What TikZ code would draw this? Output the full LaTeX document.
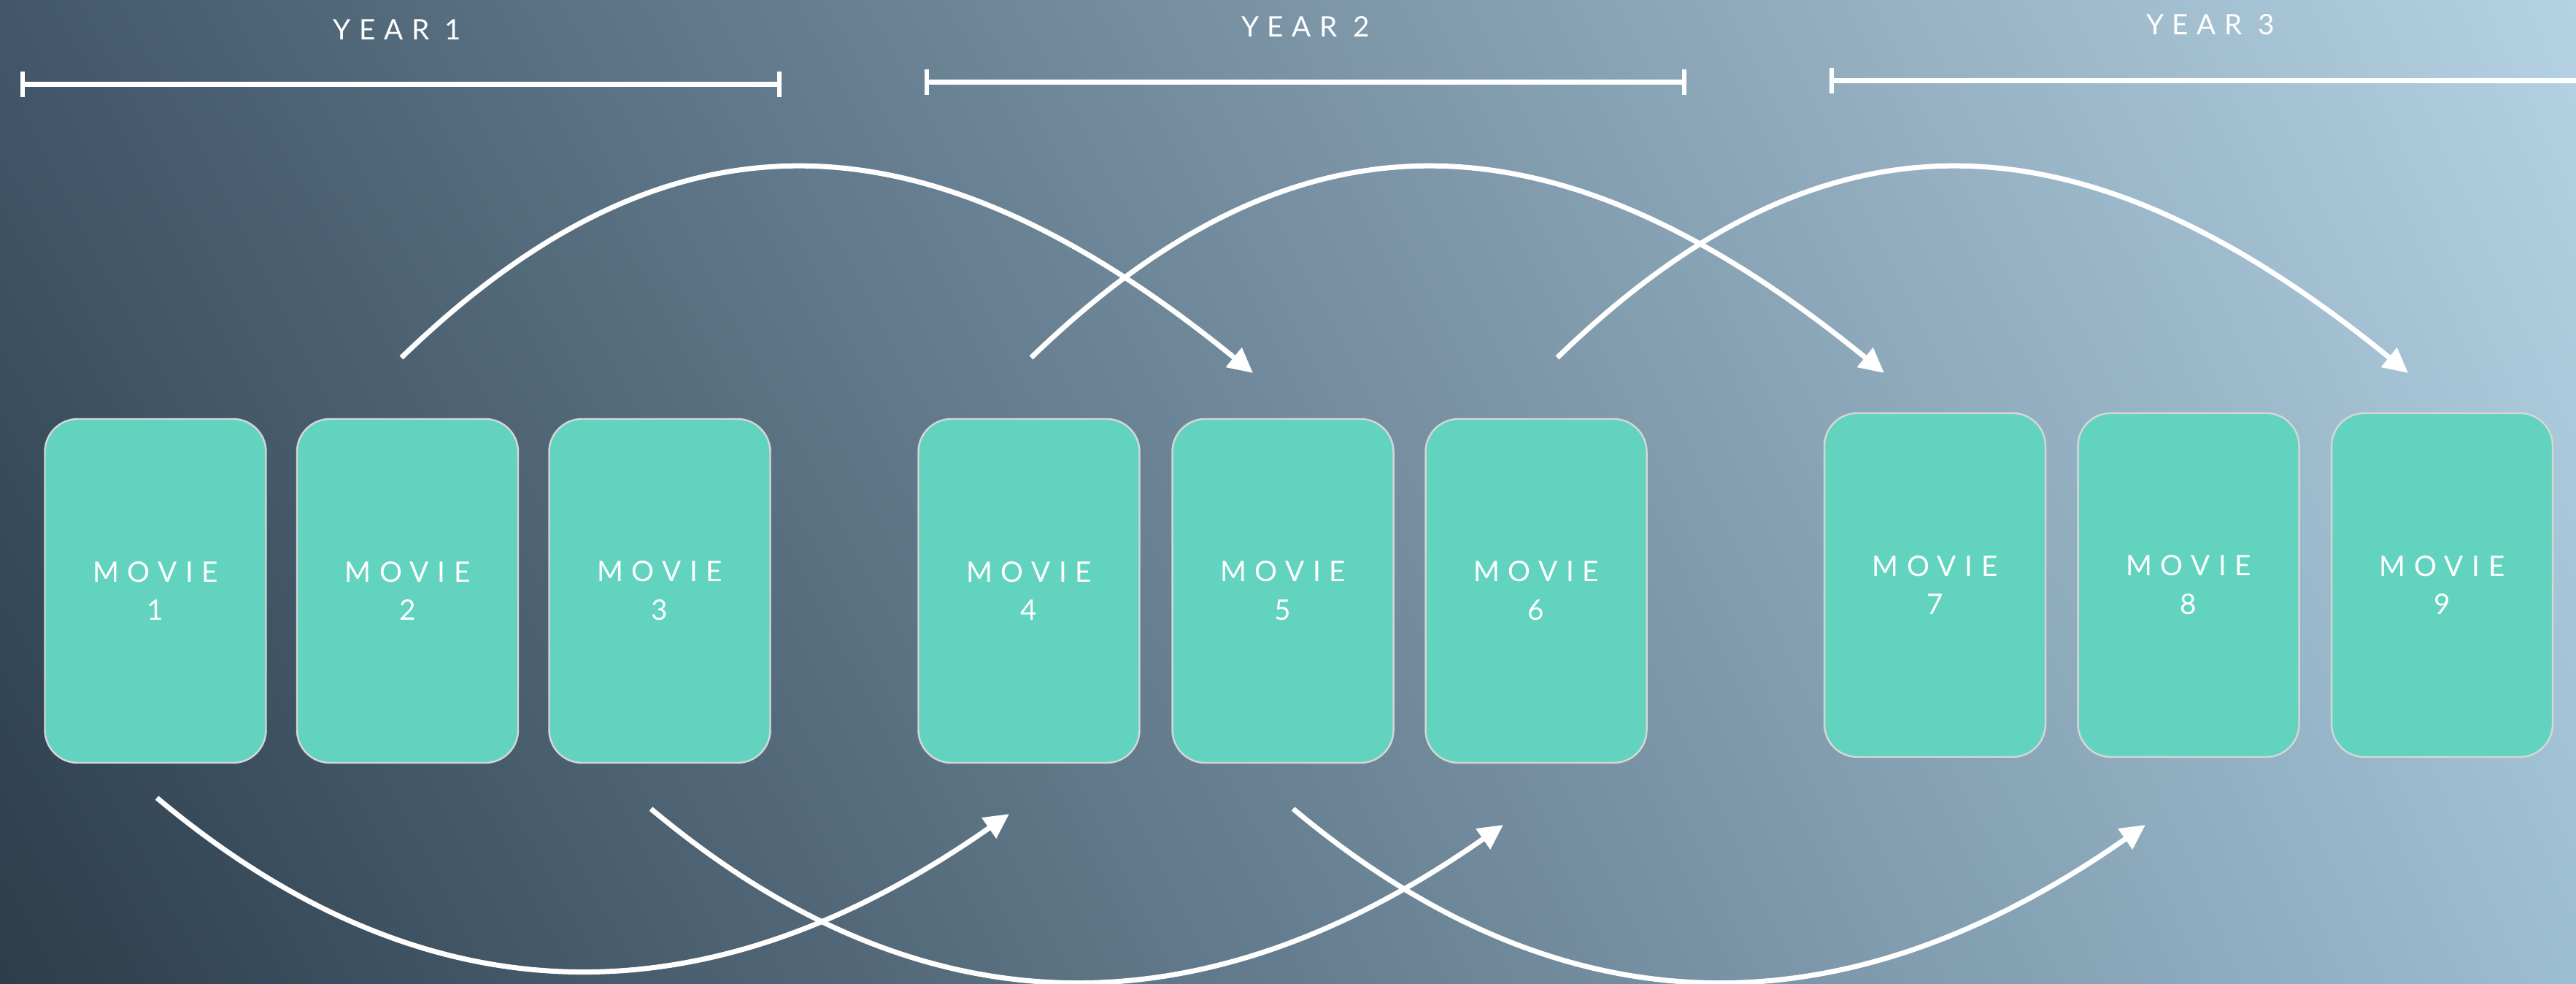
\documentclass[tikz,border=0pt]{standalone}
\usepackage{fontspec}
\setmainfont{Lato}
\newfontfamily\tracked{Lato}[LetterSpace=30]
\usetikzlibrary{arrows.meta,calc,shadings}

\definecolor{bgUL}{HTML}{42586A}
\definecolor{bgUR}{HTML}{B4D2E3}
\definecolor{bgLL}{HTML}{2C3D4B}
\definecolor{bgLR}{HTML}{9DBDD1}
\definecolor{moviefill}{HTML}{61D3BF}
\definecolor{boxedge}{HTML}{D6D6D6}

\begin{document}
\begin{tikzpicture}[
  moviebox/.style={draw=boxedge, line width=0.7pt, fill=moviefill,
    rounded corners=0.45cm, minimum width=3.03cm, minimum height=4.71cm,
    inner sep=0pt, align=center, text=white,
    font=\tracked\fontsize{11}{15}\selectfont},
  yearlabel/.style={text=white, anchor=base, inner sep=0pt,
    font=\tracked\fontsize{11}{15}\selectfont},
  yearbar/.style={draw=white, line width=0.07cm},
  yeartick/.style={draw=white, line width=0.06cm},
  flow/.style={draw=white, line width=0.07cm,
    -{Triangle[length=0.34cm, width=0.33cm]}}
]
\useasboundingbox (0,0) rectangle (35.3,13.48);
\shade[upper left=bgUL, upper right=bgUR, lower left=bgLL, lower right=bgLR]
  (0,0) rectangle (35.3,13.48);

% year labels and spans
\node[yearlabel] (y1) at (5.445,12.93) {YEAR 1};
\node[yearlabel] (y2) at (17.89,12.97) {YEAR 2};
\node[yearlabel] (y3) at (30.29,13.00) {YEAR 3};

\draw[yearbar] (0.31,12.325) -- (10.68,12.325);
\draw[yeartick] (0.31,12.15) -- (0.31,12.50);
\draw[yeartick] (10.68,12.15) -- (10.68,12.50);

\draw[yearbar] (12.70,12.35) -- (23.08,12.35);
\draw[yeartick] (12.70,12.175) -- (12.70,12.525);
\draw[yeartick] (23.08,12.175) -- (23.08,12.525);

\draw[yearbar] (25.10,12.37) -- (35.3,12.37);
\draw[yeartick] (25.10,12.195) -- (25.10,12.545);

% movies
\node[moviebox] (m1) at (2.13,5.385)  {MOVIE\\1};
\node[moviebox] (m2) at (5.585,5.385) {MOVIE\\2};
\node[moviebox] (m3) at (9.04,5.385)  {MOVIE\\3};
\node[moviebox] (m4) at (14.10,5.385) {MOVIE\\4};
\node[moviebox] (m5) at (17.58,5.385) {MOVIE\\5};
\node[moviebox] (m6) at (21.05,5.385) {MOVIE\\6};
\node[moviebox] (m7) at (26.515,5.465) {MOVIE\\7};
\node[moviebox] (m8) at (29.99,5.465)  {MOVIE\\8};
\node[moviebox] (m9) at (33.465,5.465) {MOVIE\\9};

% arrow end points
\coordinate (a1s) at (5.50,8.58);
\coordinate (a1e) at (17.17,8.37);
\coordinate (a2s) at (14.13,8.58);
\coordinate (a2e) at (25.82,8.37);
\coordinate (a3s) at (21.34,8.58);
\coordinate (a3e) at (33.00,8.37);

\coordinate (b1s) at (2.15,2.55);
\coordinate (b1e) at (13.83,2.33);
\coordinate (b2s) at (8.92,2.40);
\coordinate (b2e) at (20.60,2.18);
\coordinate (b3s) at (17.72,2.40);
\coordinate (b3e) at (29.40,2.18);

% arcs over the top
\draw[flow] (a1s) .. controls +(3.62,3.51) and +(-4.55,3.71) .. (a1e);
\draw[flow] (a2s) .. controls +(3.62,3.51) and +(-4.55,3.71) .. (a2e);
\draw[flow] (a3s) .. controls +(3.62,3.51) and +(-4.55,3.71) .. (a3e);

% arcs underneath
\draw[flow] (b1s) .. controls +(3.71,-3.11) and +(-4.13,-2.89) .. (b1e);
\draw[flow] (b2s) .. controls +(3.71,-3.11) and +(-4.13,-2.89) .. (b2e);
\draw[flow] (b3s) .. controls +(3.71,-3.11) and +(-4.13,-2.89) .. (b3e);
\end{tikzpicture}
\end{document}
